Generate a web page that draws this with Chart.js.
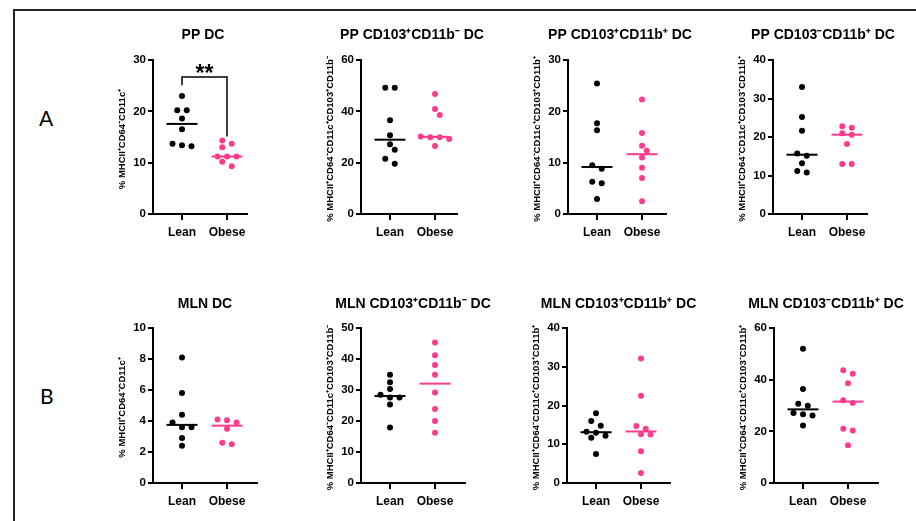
<!DOCTYPE html>
<html><head><meta charset="utf-8">
<script src="https://cdn.jsdelivr.net/npm/chart.js@4.4.1/dist/chart.umd.min.js"></script>
<style>
html,body{margin:0;padding:0;width:916px;height:521px;overflow:hidden;background:#fff;}
body{position:relative;}
.frame{position:absolute;left:13px;top:9px;width:1000px;height:600px;border-left:2px solid #222;border-top:2px solid #222;}
.lab{position:absolute;font-family:Lato,'Open Sans',sans-serif;font-size:21px;color:#000;line-height:1;}
canvas{position:absolute;}
</style></head><body>
<div class="frame"></div>
<div class="lab" style="left:39px;top:107px">A</div>
<div class="lab" style="left:40px;top:385px">B</div>
<script>
// ---- data ----
const groups = ['Lean', 'Obese'];
const panelTitles = ['PP DC', 'PP CD103\u207ACD11b\u207B DC', 'PP CD103\u207ACD11b\u207A DC', 'PP CD103\u207BCD11b\u207A DC',
                     'MLN DC', 'MLN CD103\u207ACD11b\u207B DC', 'MLN CD103\u207ACD11b\u207A DC', 'MLN CD103\u207BCD11b\u207A DC'];
const yTitles = ['% MHCII\u207ACD64\u207BCD11c\u207A',
                 '% MHCII\u207ACD64\u207BCD11c\u207ACD103\u207ACD11b\u207B',
                 '% MHCII\u207ACD64\u207BCD11c\u207ACD103\u207ACD11b\u207A',
                 '% MHCII\u207ACD64\u207BCD11c\u207ACD103\u207BCD11b\u207A',
                 '% MHCII\u207ACD64\u207BCD11c\u207A',
                 '% MHCII\u207ACD64\u207BCD11c\u207ACD103\u207ACD11b\u207B',
                 '% MHCII\u207ACD64\u207BCD11c\u207ACD103\u207ACD11b\u207A',
                 '% MHCII\u207ACD64\u207BCD11c\u207ACD103\u207BCD11b\u207A'];
const yMax  = [30, 60, 30, 40, 10, 50, 40, 60];
const yStep = [10, 20, 10, 10, 2, 10, 10, 20];

const ppDC_lean = [23.0, 20.2, 20.2, 18.6, 16.5, 13.7, 13.4, 13.2];
const ppDC_obese = [14.3, 13.7, 13.0, 11.2, 11.2, 11.2, 10.2, 9.3];
const ppCD103pCD11bn_lean = [49.2, 49.2, 36.5, 30.7, 27.2, 25.0, 21.5, 19.6];
const ppCD103pCD11bn_obese = [46.8, 40.9, 38.6, 30.2, 29.9, 29.9, 29.2, 26.5];
const ppCD103pCD11bp_lean = [25.4, 17.7, 16.3, 9.5, 8.8, 6.3, 6.0, 2.9];
const ppCD103pCD11bp_obese = [22.3, 15.8, 13.3, 12.3, 11.0, 9.0, 7.0, 2.5];
const ppCD103nCD11bp_lean = [33.0, 25.2, 21.6, 15.7, 15.1, 13.2, 11.2, 10.8];
const ppCD103nCD11bp_obese = [22.8, 22.4, 21.0, 20.6, 18.2, 13.0, 13.0];
const mlnDC_lean = [8.1, 5.8, 4.4, 3.9, 3.6, 3.6, 2.9, 2.4];
const mlnDC_obese = [4.1, 4.05, 3.9, 3.5, 2.6, 2.5];
const mlnCD103pCD11bn_lean = [34.9, 32.5, 30.3, 28.5, 27.6, 27.6, 25.3, 17.9];
const mlnCD103pCD11bn_obese = [45.3, 41.2, 38.1, 34.9, 29.2, 23.9, 20.0, 16.2];
const mlnCD103pCD11bp_lean = [18.0, 16.0, 14.8, 13.2, 13.0, 12.2, 11.7, 7.5];
const mlnCD103pCD11bp_obese = [32.1, 22.5, 14.7, 14.0, 12.6, 12.5, 8.2, 2.6];
const mlnCD103nCD11bp_lean = [52.0, 36.4, 30.7, 29.9, 27.1, 26.6, 26.1, 22.3];
const mlnCD103nCD11bp_obese = [43.6, 42.3, 38.6, 32.0, 31.0, 21.0, 20.3, 14.6];

// significance annotation on PP DC (bracket Lean–Obese)
const ppDC_sig = {text: '**', top: 26.7, leftEnd: 25.1, rightEnd: 15.1};

const leanSets  = [ppDC_lean, ppCD103pCD11bn_lean, ppCD103pCD11bp_lean, ppCD103nCD11bp_lean,
                   mlnDC_lean, mlnCD103pCD11bn_lean, mlnCD103pCD11bp_lean, mlnCD103nCD11bp_lean];
const obeseSets = [ppDC_obese, ppCD103pCD11bn_obese, ppCD103pCD11bp_obese, ppCD103nCD11bp_obese,
                   mlnDC_obese, mlnCD103pCD11bn_obese, mlnCD103pCD11bp_obese, mlnCD103nCD11bp_obese];

// ---- layout ----
const PINK = '#FF3B8B';
const FONT = "'Liberation Sans', Arial, sans-serif";
const axisX   = [153, 361, 568, 773, 153, 361, 567, 774];
const axisEnd = [247, 457, 666, 867, 257, 465, 670, 878];
const rowTop  = [20, 288];
const rowH    = [230, 231];
const Y_W = 50, X_H = 36, CW = 200, UNIT = 45, LEAN_OFF = 29;

function median(a){ const s=[...a].sort((x,y)=>x-y); const n=s.length; return n%2? s[(n-1)/2] : (s[n/2-1]+s[n/2])/2; }

const titlePlugin = {
  id: 'panelTitle',
  afterDraw(chart, args, opts){
    const {ctx, chartArea} = chart;
    ctx.save();
    ctx.font = 'bold 14px ' + FONT;
    ctx.fillStyle = '#000'; ctx.textAlign = 'center'; ctx.textBaseline = 'middle';
    ctx.fillText(opts.text, (chartArea.left + chartArea.right)/2 + (opts.dx||0), opts.y);
    // rotated y-axis title
    ctx.translate(chartArea.left - opts.yOff, (chartArea.top + chartArea.bottom)/2 + 2);
    ctx.rotate(-Math.PI/2);
    ctx.font = 'bold 9.5px ' + FONT;
    ctx.fillText(opts.yText, 0, 0);
    ctx.restore();
  }
};
const sigPlugin = {
  id: 'sig',
  afterDatasetsDraw(chart, args, opts){
    if(!opts.text) return;
    const {ctx, scales:{x, y}} = chart;
    const x1 = x.getPixelForValue(1), x2 = x.getPixelForValue(2);
    const yt = y.getPixelForValue(opts.top);
    ctx.save();
    ctx.strokeStyle = '#000'; ctx.lineWidth = 1.5;
    ctx.beginPath();
    ctx.moveTo(x1, y.getPixelForValue(opts.leftEnd)); ctx.lineTo(x1, yt);
    ctx.lineTo(x2, yt); ctx.lineTo(x2, y.getPixelForValue(opts.rightEnd));
    ctx.stroke();
    ctx.font = 'bold 23px ' + FONT; ctx.fillStyle = '#000';
    ctx.textAlign = 'center'; ctx.textBaseline = 'alphabetic';
    ctx.fillText(opts.text, (x1+x2)/2, yt + 4);
    ctx.restore();
  }
};

function swarm(values, ys, S, D, T){
  const py = values.map(v => ys.getPixelForValue(v));
  const idx = values.map((v,i)=>i).sort((a,b)=>values[b]-values[a]);
  const placed = [], off = new Array(values.length).fill(0);
  let i = 0;
  while(i < idx.length){
    const y0 = py[idx[i]];
    const row = [idx[i]]; let j = i+1;
    while(j < idx.length && py[idx[j]] - y0 < T){ row.push(idx[j]); j++; }
    const n = row.length;
    const cands = [0, S/2, -S/2, S, -S, 1.5*S, -1.5*S, 2*S, -2*S];
    for(let c = 0; c < cands.length; c++){
      const xs = row.map((_,k)=> cands[c] + (k-(n-1)/2)*S);
      const ok = row.every((r,k)=> placed.every(p => Math.hypot(p.x-xs[k], p.y-py[r]) >= D));
      if(ok || c === cands.length-1){
        row.forEach((r,k)=>{ off[r] = xs[k]; placed.push({x: xs[k], y: py[r]}); });
        break;
      }
    }
    i = j;
  }
  return off;
}

const tickFont = {family: FONT, size: 11.5, weight: 'bold'};
const catFont = {family: FONT, size: 12, weight: 'bold'};

for(let p = 0; p < 8; p++){
  const row = p < 4 ? 0 : 1;
  const cv = document.createElement('canvas');
  const left = axisX[p] - Y_W;
  cv.width = CW; cv.height = rowH[row];
  cv.style.left = left + 'px'; cv.style.top = rowTop[row] + 'px';
  cv.style.width = CW + 'px'; cv.style.height = rowH[row] + 'px';
  document.body.appendChild(cv);
  const len = axisEnd[p] - axisX[p];
  const xmin = 1 - LEAN_OFF/UNIT, xmax = xmin + len/UNIT;
  const lean = leanSets[p], obese = obeseSets[p];
  const mL = median(lean), mO = median(obese);
  const half = 15.5/UNIT;
  const chart = new Chart(cv, {
    type: 'scatter',
    data: { datasets: [
      {data: lean.map(v=>({x:1, y:v})), backgroundColor:'#000', borderWidth:0, pointRadius:3, pointHoverRadius:3},
      {data: obese.map(v=>({x:2, y:v})), backgroundColor:PINK, borderWidth:0, pointRadius:3, pointHoverRadius:3},
      {type:'line', data:[{x:1-half, y:mL},{x:1+half, y:mL}], borderColor:'#000', borderWidth:2, pointRadius:0, fill:false},
      {type:'line', data:[{x:2-half, y:mO},{x:2+half, y:mO}], borderColor:PINK, borderWidth:2, pointRadius:0, fill:false}
    ]},
    options: {
      responsive:false, animation:false, devicePixelRatio:1, events:[],
      layout:{padding:{top:40, left:0, right: CW - Y_W - len, bottom:0}},
      plugins:{
        legend:{display:false}, tooltip:{enabled:false}, title:{display:false},
        panelTitle:{text: panelTitles[p], y: row===0 ? 15 : 16.5, dx: row===0 ? 3 : 0, yText: yTitles[p], yOff: 31},
        sig: p===0 ? ppDC_sig : {}
      },
      scales:{
        x:{type:'linear', min:xmin, max:xmax,
           afterFit(s){ s.height = X_H; },
           afterBuildTicks(s){ s.ticks = [{value:1},{value:2}]; },
           ticks:{callback:(v)=>groups[Math.round(v)-1], font:catFont, color:'#000', padding:5, maxRotation:0, autoSkip:false},
           grid:{drawOnChartArea:false, drawTicks:true, tickLength:6, color:'#000', lineWidth:2},
           border:{display:true, color:'#000', width:2}},
        y:{type:'linear', min:0, max:yMax[p],
           afterFit(s){ s.width = Y_W; },
           ticks:{stepSize:yStep[p], font:tickFont, color:'#000', padding:2},
           grid:{drawOnChartArea:false, drawTicks:true, tickLength:5, color:'#000', lineWidth:2},
           border:{display:true, color:'#000', width:2}}
      }
    },
    plugins:[titlePlugin, sigPlugin]
  });
  // spread overlapping points horizontally (beeswarm) using the drawn scale
  const ys = chart.scales.y, xs = chart.scales.x;
  const unitPx = xs.getPixelForValue(2) - xs.getPixelForValue(1);
  const offL = swarm(lean, ys, 9.5, 6.5, 5);
  const offO = swarm(obese, ys, 9.5, 6.5, 5);
  chart.data.datasets[0].data = lean.map((v,i)=>({x: 1 + offL[i]/unitPx, y: v}));
  chart.data.datasets[1].data = obese.map((v,i)=>({x: 2 + offO[i]/unitPx, y: v}));
  chart.update('none');
}
</script>
</body></html>
